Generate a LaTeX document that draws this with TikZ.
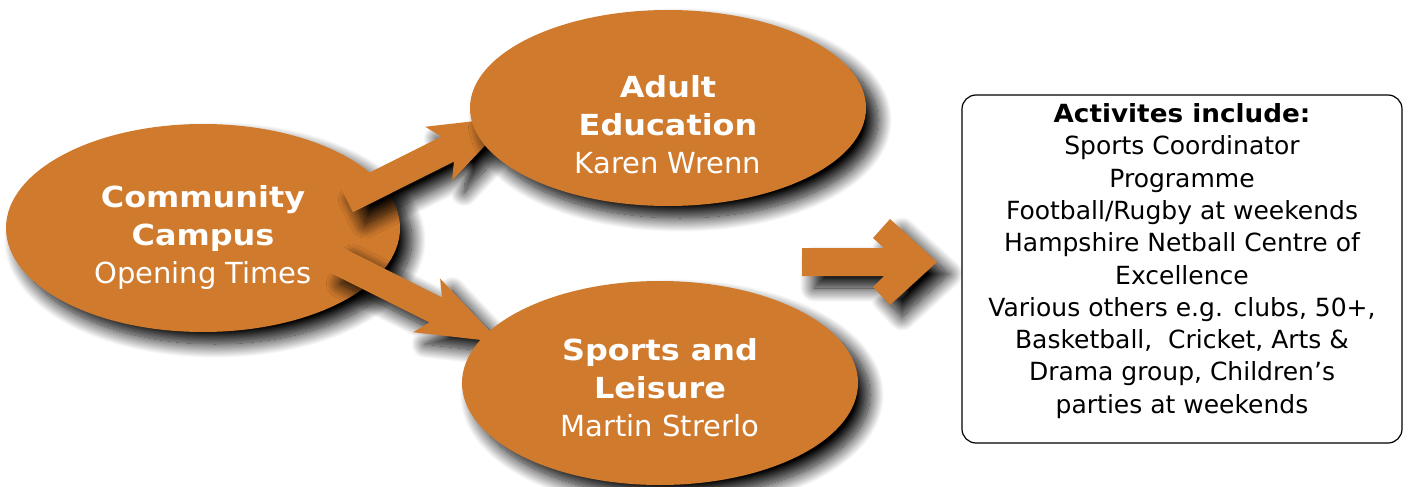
\documentclass[tikz,border=0pt]{standalone}
\usepackage{fontspec}
\setmainfont{DejaVu Sans}
\newfontfamily\widebold{DejaVu Sans Bold}[FakeStretch=1.1]
\newfontfamily\boxbold{DejaVu Sans Bold}[FakeStretch=1.05]
\usetikzlibrary{shapes.geometric,shadows.blur}
\definecolor{org}{HTML}{D07A2D}
\tikzset{
  shad/.style={blur shadow={shadow xshift=12pt, shadow yshift=-12pt, shadow blur radius=14pt, shadow blur steps=20, shadow opacity=100}},
  oval/.style={ellipse, fill=org, shad, inner sep=0pt},
  ovaltext/.style={text=white, align=center, inner sep=0pt, font=\fontsize{29}{38}\selectfont},
  fatarrow/.style={fill=org, shad},
  actbox/.style={draw=black, line width=1.2pt, rounded corners=14pt, fill=white},
  boxtext/.style={align=center, font=\fontsize{25}{32.3}\selectfont, inner sep=0pt}
}
\begin{document}
\begin{tikzpicture}[x=1pt,y=-1pt]
\useasboundingbox (0,0) rectangle (1409,487);
% community
\node[oval, minimum width=394, minimum height=208] (cc) at (203,228) {};
\node[ovaltext] (cct) at (203,237) {{\widebold Community}\\{\widebold Campus}\\Opening Times};
% arrows from community
\begin{scope}[shift={(346.6,199.7)}, rotate=26.6]
  \path[fatarrow] (0,-14) -- (113,-14) -- (103,-30) -- (185,0) -- (103,30) -- (113,14) -- (0,14) -- cycle;
\end{scope}
\begin{scope}[shift={(334.6,259.3)}, rotate=-26.6]
  \path[fatarrow] (0,-14) -- (113,-14) -- (103,-30) -- (185,0) -- (103,30) -- (113,14) -- (0,14) -- cycle;
\end{scope}
% adult education
\node[oval, minimum width=396, minimum height=196] (ae) at (668,108) {};
\node[ovaltext] (aet) at (668,125) {{\widebold Adult}\\{\widebold Education}\\Karen Wrenn};
% sports and leisure
\node[oval, minimum width=396, minimum height=204] (sl) at (660,383) {};
\node[ovaltext] (slt) at (660,388) {{\widebold Sports and}\\{\widebold Leisure}\\Martin Strerlo};
% right arrow
\path[fatarrow] (802,248) -- (884,248) -- (873,238) -- (890,219) -- (937,262) -- (890,305) -- (873,287) -- (884,276) -- (802,276) -- cycle;
% activities box
\node[actbox, minimum width=440, minimum height=348] (box) at (1182,269) {};
\node[boxtext, anchor=north] (boxtxt) at ([yshift=-9]box.north)
  {{\boxbold Activites include:}\\Sports Coordinator\\Programme\\Football/Rugby at weekends\\Hampshire Netball Centre of\\Excellence\\Various others e.g. clubs, 50+,\\Basketball,\ \ Cricket, Arts \&\\Drama group, Children’s\\parties at weekends};
\end{tikzpicture}
\end{document}
